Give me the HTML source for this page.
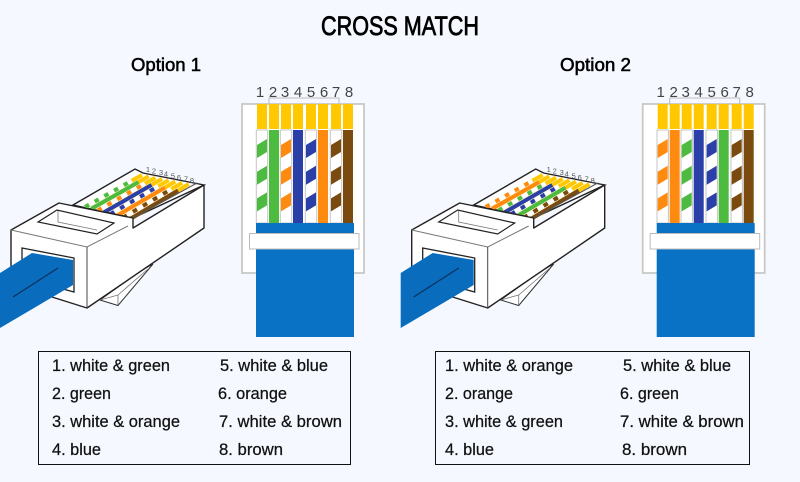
<!DOCTYPE html>
<html>
<head>
<meta charset="utf-8">
<style>
html,body{margin:0;padding:0;background:#f5f9ff}
svg{display:block}
text{font-family:"Liberation Sans",sans-serif}
.t{font-size:16.5px;fill:#111;stroke:#111;stroke-width:.25}
.n{font-size:15px;fill:#444}
.s{font-size:7.5px;fill:#555;text-anchor:middle}
.o{font-size:18.5px;fill:#000;stroke:#000;stroke-width:.55}
</style>
</head>
<body>
<svg width="800" height="482" viewBox="0 0 800 482" xmlns="http://www.w3.org/2000/svg">
<defs>
  <g id="plugBack">
    <polygon points="73,205 135,169 143,173 204,185 133,218" fill="#fff" stroke="#222" stroke-width="1.4"/>
  </g>
  <g id="plugFront">
    <polygon points="100,300 118,305.5 153,264 139,272" fill="#fff" stroke="#333" stroke-width="1"/>
    <polyline points="100,300 118,295 148,269" fill="none" stroke="#777" stroke-width=".8"/>
    <line x1="118" y1="295" x2="118" y2="305" stroke="#777" stroke-width=".8"/>
    <polygon points="11,230 59,203 133,218 133,228 204,185 204,228 87,308 52,297 11,267" fill="#fff" stroke="#222" stroke-width="1.4" stroke-linejoin="round"/>
    <line x1="133" y1="218" x2="197" y2="183" stroke="#555" stroke-width="1"/>
    <polyline points="11,230 87,247 128,226" fill="none" stroke="#777" stroke-width="1"/>
    <line x1="87" y1="247" x2="87" y2="308" stroke="#444" stroke-width="1"/>
    <polygon points="38,222 57,210 114,223 97,234" fill="#fff" stroke="#222" stroke-width="1.2"/>
    <polyline points="58,211 58,222 97,230" fill="none" stroke="#777" stroke-width=".8"/>
    <polygon points="22,248 74,258 74,292 52,286 22,262" fill="#fff" stroke="#222" stroke-width="1.3"/>
    <polygon points="0,273 32,253 73,260 73,285 0,328" fill="#0a6cbc"/>
    <line x1="13" y1="297" x2="58" y2="268" stroke="#0b2f5c" stroke-width="1.2"/>
  </g>
  <g id="jackBack">
    <rect x="242" y="104" width="122" height="169" fill="#fff" stroke="#c8c8c8" stroke-width="1.8"/>
    <polyline points="269,104 269,98 339,98 339,104" fill="none" stroke="#bbb" stroke-width="1"/>
    <g fill="#ffc800">
      <rect x="257" y="104" width="10" height="25"/>
      <rect x="269" y="104" width="10" height="25"/>
      <rect x="281" y="104" width="10" height="25"/>
      <rect x="293" y="104" width="10" height="25"/>
      <rect x="306" y="104" width="10" height="25"/>
      <rect x="318" y="104" width="10" height="25"/>
      <rect x="331" y="104" width="10" height="25"/>
      <rect x="343" y="104" width="10" height="25"/>
    </g>
  </g>
  <g id="jackFront">
    <rect x="256" y="223" width="98" height="114" fill="#0a72c4"/>
    <rect x="249.5" y="233.5" width="109.5" height="15.5" fill="#fff" stroke="#bbb" stroke-width="1"/>
  </g>
  <g id="whiteWire">
    <rect x="-.7" y="130" width="11.4" height="93" fill="#fff" stroke="#c4c4c4" stroke-width="1"/>
  </g>
  <polygon id="band" points="0,145 10,139 10,152 0,158"/>
  <g id="stripes">
    <use href="#band"/>
    <use href="#band" y="26.7"/>
    <use href="#band" y="53.4"/>
  </g>
</defs>

<text x="400" y="35" text-anchor="middle" font-size="27" fill="#000" stroke="#000" stroke-width=".8" textLength="158" lengthAdjust="spacingAndGlyphs">CROSS MATCH</text>
<text class="o" x="131" y="71" textLength="70" lengthAdjust="spacingAndGlyphs">Option 1</text>
<text class="o" x="560" y="71" textLength="71" lengthAdjust="spacingAndGlyphs">Option 2</text>

<!-- Left plug -->
<g>
  <use href="#plugBack"/>
  <g fill="none" stroke-width="4">
    <line x1="85" y1="207" x2="142" y2="175" stroke="#ffc800"/><line x1="91.3" y1="208.8" x2="148.7" y2="176.3" stroke="#ffc800"/><line x1="97.6" y1="210.6" x2="155.3" y2="177.6" stroke="#ffc800"/><line x1="103.9" y1="212.4" x2="162" y2="178.9" stroke="#ffc800"/><line x1="110.2" y1="214.2" x2="168.7" y2="180.2" stroke="#ffc800"/><line x1="116.5" y1="216" x2="175.3" y2="181.5" stroke="#ffc800"/><line x1="122.8" y1="217.8" x2="182" y2="182.8" stroke="#ffc800"/><line x1="129.1" y1="219.6" x2="188.7" y2="184.1" stroke="#ffc800"/>
    <line pathLength="100" x1="85" y1="207" x2="142" y2="175" stroke="#fff" stroke-dasharray="82 100"/>
    <line pathLength="100" x1="85" y1="207" x2="142" y2="175" stroke="#4cbb3f" stroke-dasharray="7 10 7 10 7 10 7 10 7 100"/>
    <line pathLength="100" x1="91.3" y1="208.8" x2="148.7" y2="176.3" stroke="#4cbb3f" stroke-dasharray="82 100"/>
    <line pathLength="100" x1="97.6" y1="210.6" x2="155.3" y2="177.6" stroke="#fff" stroke-dasharray="82 100"/>
    <line pathLength="100" x1="97.6" y1="210.6" x2="155.3" y2="177.6" stroke="#ff8a10" stroke-dasharray="7 10 7 10 7 10 7 10 7 100"/>
    <line pathLength="100" x1="103.9" y1="212.4" x2="162" y2="178.9" stroke="#2b3fa8" stroke-dasharray="82 100"/>
    <line pathLength="100" x1="110.2" y1="214.2" x2="168.7" y2="180.2" stroke="#fff" stroke-dasharray="82 100"/>
    <line pathLength="100" x1="110.2" y1="214.2" x2="168.7" y2="180.2" stroke="#2b3fa8" stroke-dasharray="7 10 7 10 7 10 7 10 7 100"/>
    <line pathLength="100" x1="116.5" y1="216" x2="175.3" y2="181.5" stroke="#ff8a10" stroke-dasharray="82 100"/>
    <line pathLength="100" x1="122.8" y1="217.8" x2="182" y2="182.8" stroke="#fff" stroke-dasharray="82 100"/>
    <line pathLength="100" x1="122.8" y1="217.8" x2="182" y2="182.8" stroke="#7a4a0e" stroke-dasharray="7 10 7 10 7 10 7 10 7 100"/>
    <line pathLength="100" x1="129.1" y1="219.6" x2="188.7" y2="184.1" stroke="#7a4a0e" stroke-dasharray="82 100"/>
  </g>
  <use href="#plugFront"/>
  <text class="s" x="148" y="172">1</text><text class="s" x="154" y="173.5">2</text><text class="s" x="161" y="175">3</text><text class="s" x="166" y="176.5">4</text><text class="s" x="173" y="178.5">5</text><text class="s" x="179" y="180">6</text><text class="s" x="186" y="181.5">7</text><text class="s" x="192" y="183">8</text>
</g>

<!-- Right plug -->
<g transform="translate(400.7,0)">
  <use href="#plugBack"/>
  <g fill="none" stroke-width="4">
    <line x1="85" y1="207" x2="142" y2="175" stroke="#ffc800"/><line x1="91.3" y1="208.8" x2="148.7" y2="176.3" stroke="#ffc800"/><line x1="97.6" y1="210.6" x2="155.3" y2="177.6" stroke="#ffc800"/><line x1="103.9" y1="212.4" x2="162" y2="178.9" stroke="#ffc800"/><line x1="110.2" y1="214.2" x2="168.7" y2="180.2" stroke="#ffc800"/><line x1="116.5" y1="216" x2="175.3" y2="181.5" stroke="#ffc800"/><line x1="122.8" y1="217.8" x2="182" y2="182.8" stroke="#ffc800"/><line x1="129.1" y1="219.6" x2="188.7" y2="184.1" stroke="#ffc800"/>
    <line pathLength="100" x1="85" y1="207" x2="142" y2="175" stroke="#fff" stroke-dasharray="82 100"/>
    <line pathLength="100" x1="85" y1="207" x2="142" y2="175" stroke="#ff8a10" stroke-dasharray="7 10 7 10 7 10 7 10 7 100"/>
    <line pathLength="100" x1="91.3" y1="208.8" x2="148.7" y2="176.3" stroke="#ff8a10" stroke-dasharray="82 100"/>
    <line pathLength="100" x1="97.6" y1="210.6" x2="155.3" y2="177.6" stroke="#fff" stroke-dasharray="82 100"/>
    <line pathLength="100" x1="97.6" y1="210.6" x2="155.3" y2="177.6" stroke="#4cbb3f" stroke-dasharray="7 10 7 10 7 10 7 10 7 100"/>
    <line pathLength="100" x1="103.9" y1="212.4" x2="162" y2="178.9" stroke="#2b3fa8" stroke-dasharray="82 100"/>
    <line pathLength="100" x1="110.2" y1="214.2" x2="168.7" y2="180.2" stroke="#fff" stroke-dasharray="82 100"/>
    <line pathLength="100" x1="110.2" y1="214.2" x2="168.7" y2="180.2" stroke="#2b3fa8" stroke-dasharray="7 10 7 10 7 10 7 10 7 100"/>
    <line pathLength="100" x1="116.5" y1="216" x2="175.3" y2="181.5" stroke="#4cbb3f" stroke-dasharray="82 100"/>
    <line pathLength="100" x1="122.8" y1="217.8" x2="182" y2="182.8" stroke="#fff" stroke-dasharray="82 100"/>
    <line pathLength="100" x1="122.8" y1="217.8" x2="182" y2="182.8" stroke="#7a4a0e" stroke-dasharray="7 10 7 10 7 10 7 10 7 100"/>
    <line pathLength="100" x1="129.1" y1="219.6" x2="188.7" y2="184.1" stroke="#7a4a0e" stroke-dasharray="82 100"/>
  </g>
  <use href="#plugFront"/>
  <text class="s" x="148" y="172">1</text><text class="s" x="154" y="173.5">2</text><text class="s" x="161" y="175">3</text><text class="s" x="166" y="176.5">4</text><text class="s" x="173" y="178.5">5</text><text class="s" x="179" y="180">6</text><text class="s" x="186" y="181.5">7</text><text class="s" x="192" y="183">8</text>
</g>

<!-- Left jack -->
<g>
  <use href="#jackBack"/>
  <g text-anchor="middle">
    <text class="n" x="260" y="97">1</text><text class="n" x="273" y="97">2</text><text class="n" x="285" y="97">3</text><text class="n" x="298" y="97">4</text><text class="n" x="311" y="97">5</text><text class="n" x="324" y="97">6</text><text class="n" x="336" y="97">7</text><text class="n" x="349" y="97">8</text>
  </g>
  <use href="#whiteWire" x="257"/><use href="#stripes" x="257" fill="#4cbb3f"/>
  <rect x="269" y="130" width="10" height="93" fill="#4cbb3f"/>
  <use href="#whiteWire" x="281"/><use href="#stripes" x="281" fill="#ff8a10"/>
  <rect x="293" y="130" width="10" height="93" fill="#2b3fa8"/>
  <use href="#whiteWire" x="306"/><use href="#stripes" x="306" fill="#2b3fa8"/>
  <rect x="318" y="130" width="10" height="93" fill="#ff8a10"/>
  <use href="#whiteWire" x="331"/><use href="#stripes" x="331" fill="#7a4a0e"/>
  <rect x="343" y="130" width="10" height="93" fill="#7a4a0e"/>
  <use href="#jackFront"/>
</g>

<!-- Right jack -->
<g transform="translate(400.7,0)">
  <use href="#jackBack"/>
  <g text-anchor="middle">
    <text class="n" x="260" y="97">1</text><text class="n" x="273" y="97">2</text><text class="n" x="285" y="97">3</text><text class="n" x="298" y="97">4</text><text class="n" x="311" y="97">5</text><text class="n" x="324" y="97">6</text><text class="n" x="336" y="97">7</text><text class="n" x="349" y="97">8</text>
  </g>
  <use href="#whiteWire" x="257"/><use href="#stripes" x="257" fill="#ff8a10"/>
  <rect x="269" y="130" width="10" height="93" fill="#ff8a10"/>
  <use href="#whiteWire" x="281"/><use href="#stripes" x="281" fill="#4cbb3f"/>
  <rect x="293" y="130" width="10" height="93" fill="#2b3fa8"/>
  <use href="#whiteWire" x="306"/><use href="#stripes" x="306" fill="#2b3fa8"/>
  <rect x="318" y="130" width="10" height="93" fill="#4cbb3f"/>
  <use href="#whiteWire" x="331"/><use href="#stripes" x="331" fill="#7a4a0e"/>
  <rect x="343" y="130" width="10" height="93" fill="#7a4a0e"/>
  <use href="#jackFront"/>
</g>

<!-- Tables -->
<rect x="38.5" y="351.5" width="312" height="113" fill="none" stroke="#111" stroke-width="1"/>
<rect x="435.5" y="351.5" width="314" height="113" fill="none" stroke="#111" stroke-width="1"/>

<g>
<text class="t" x="52" y="371" textLength="118" lengthAdjust="spacingAndGlyphs">1. white &amp; green</text>
<text class="t" x="52" y="399" textLength="59" lengthAdjust="spacingAndGlyphs">2. green</text>
<text class="t" x="52" y="427" textLength="128" lengthAdjust="spacingAndGlyphs">3. white &amp; orange</text>
<text class="t" x="52" y="455" textLength="49" lengthAdjust="spacingAndGlyphs">4. blue</text>
<text class="t" x="220" y="371" textLength="108" lengthAdjust="spacingAndGlyphs">5. white &amp; blue</text>
<text class="t" x="218" y="399" textLength="69" lengthAdjust="spacingAndGlyphs">6. orange</text>
<text class="t" x="219" y="427" textLength="123" lengthAdjust="spacingAndGlyphs">7. white &amp; brown</text>
<text class="t" x="219" y="455" textLength="64" lengthAdjust="spacingAndGlyphs">8. brown</text>

<text class="t" x="445" y="371" textLength="128" lengthAdjust="spacingAndGlyphs">1. white &amp; orange</text>
<text class="t" x="445" y="399" textLength="68" lengthAdjust="spacingAndGlyphs">2. orange</text>
<text class="t" x="445" y="427" textLength="118" lengthAdjust="spacingAndGlyphs">3. white &amp; green</text>
<text class="t" x="445" y="455" textLength="49" lengthAdjust="spacingAndGlyphs">4. blue</text>
<text class="t" x="623" y="371" textLength="108" lengthAdjust="spacingAndGlyphs">5. white &amp; blue</text>
<text class="t" x="620" y="399" textLength="59" lengthAdjust="spacingAndGlyphs">6. green</text>
<text class="t" x="620" y="427" textLength="124" lengthAdjust="spacingAndGlyphs">7. white &amp; brown</text>
<text class="t" x="622" y="455" textLength="65" lengthAdjust="spacingAndGlyphs">8. brown</text>
</g>
</svg>
</body>
</html>
